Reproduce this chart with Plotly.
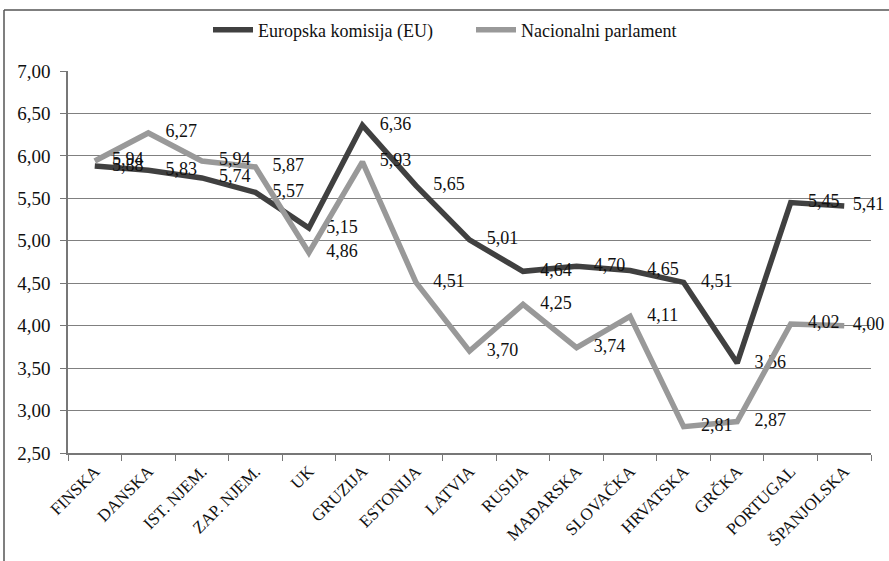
import plotly.graph_objects as go

categories = ["FINSKA", "DANSKA", "IST. NJEM.", "ZAP. NJEM.", "UK", "GRUZIJA", "ESTONIJA",
              "LATVIA", "RUSIJA", "MAĐARSKA", "SLOVAČKA", "HRVATSKA", "GRČKA", "PORTUGAL", "ŠPANJOLSKA"]
eu_values = [5.88, 5.83, 5.74, 5.57, 5.15, 6.36, 5.65, 5.01, 4.64, 4.70, 4.65, 4.51, 3.56, 5.45, 5.41]
np_values = [5.94, 6.27, 5.94, 5.87, 4.86, 5.93, 4.51, 3.70, 4.25, 3.74, 4.11, 2.81, 2.87, 4.02, 4.00]
series_names = ["Europska komisija (EU)", "Nacionalni parlament"]
y_ticks = [2.5, 3.0, 3.5, 4.0, 4.5, 5.0, 5.5, 6.0, 6.5, 7.0]

FONT = "Times New Roman"

# invisible markers only push the value labels away from the line (last label sits closer)
label_push = [26] * (len(categories) - 1) + [12]

fig = go.Figure()
for name, vals, col in [(series_names[0], eu_values, "#404040"), (series_names[1], np_values, "#999999")]:
    fig.add_trace(go.Scatter(
        x=categories, y=vals, name=name, mode="lines+markers+text",
        line=dict(color=col, width=5.5),
        marker=dict(size=label_push, color="rgba(0,0,0,0)", line=dict(width=0, color="rgba(0,0,0,0)")),
        texttemplate="%{y:.2f}", textposition="middle right",
        textfont=dict(family=FONT, size=18, color="#111111"),
        cliponaxis=False, hoverinfo="skip",
    ))

fig.update_layout(
    width=889, height=561,
    margin=dict(l=68, r=18, t=71, b=108),
    paper_bgcolor="white", plot_bgcolor="white",
    separators=", ",
    font=dict(family=FONT, size=16, color="#111111"),
    showlegend=True,
    legend=dict(orientation="h", x=(208 - 68) / 803, xanchor="left", y=1.107, yanchor="middle",
                font=dict(family=FONT, size=18), itemwidth=40, tracegroupgap=0,
                entrywidth=208, entrywidthmode="pixels"),
    xaxis=dict(type="category", range=[-0.5, 14.5], tickson="boundaries",
               ticks="outside", ticklen=6, tickcolor="#777777",
               showline=True, linecolor="#777777", linewidth=1.5,
               showgrid=False, tickangle=-45, automargin=False,
               tickfont=dict(family=FONT, size=17)),
    yaxis=dict(range=[2.5, 7.0], tickvals=y_ticks, tickformat=".2f",
               ticks="outside", ticklen=6, tickcolor="#777777",
               showline=True, linecolor="#777777", linewidth=1.5,
               showgrid=True, gridcolor="#808080", gridwidth=1.2, automargin=False,
               zeroline=False, tickfont=dict(family=FONT, size=19), ticklabelstandoff=6),
    shapes=[
        dict(type="line", xref="paper", yref="paper", x0=(4 - 68) / 803, x1=1.05,
             y0=1 + (71 - 10) / 382, y1=1 + (71 - 10) / 382, line=dict(color="#555555", width=1.5)),
        dict(type="line", xref="paper", yref="paper", x0=(4 - 68) / 803, x1=(4 - 68) / 803,
             y0=1 + (71 - 10) / 382, y1=-0.4, line=dict(color="#555555", width=1.5)),
    ],
)

fig.write_html("out.html", config={"displayModeBar": False},
               post_script="document.body.style.margin='0';")
